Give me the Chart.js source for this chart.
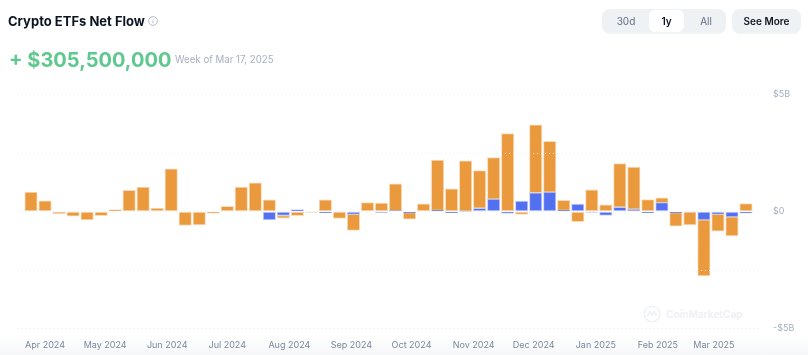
<!DOCTYPE html>
<html>
<head>
<meta charset="utf-8">
<script src="https://cdn.jsdelivr.net/npm/chart.js@4/dist/chart.umd.min.js"></script>
<style>
html,body{margin:0;padding:0;width:808px;height:355px;overflow:hidden;background:#fff;font-family:Inter,sans-serif}
#fade{position:absolute;left:0;right:0;top:335px;height:20px;background:linear-gradient(#ffffff,#f6f7f9)}
#mark{position:absolute;left:643px;top:305px;display:flex;align-items:center;gap:5px;color:#eff1f4;font-weight:700;font-size:10px;height:18px}
#wrap{position:absolute;left:0;top:0;width:808px;height:355px}
.t{position:absolute;white-space:nowrap}
#title{left:8px;top:12px;font-size:13px;font-weight:700;color:#0d1421;line-height:18px}
#val{left:9px;top:46px;font-size:20px;font-weight:700;color:#5fc88f;line-height:28px}
#week{left:175px;top:52px;font-size:9.7px;color:#a6b0c3;line-height:15px}
#info{position:absolute;left:148px;top:16px}
#grp{position:absolute;left:602px;top:9px;width:124px;height:25px;background:#eff2f5;border-radius:8px}
#act{position:absolute;left:47px;top:1px;width:35px;height:22px;background:#fff;border-radius:6px}
.b{position:absolute;top:0;line-height:25px;font-size:10px;text-align:center;color:#616e85}
#more{position:absolute;left:732px;top:9px;width:69px;height:25px;line-height:25px;background:#eff2f5;border-radius:8px;text-align:center;font-size:10px;font-weight:600;color:#0d1421}
</style>
</head>
<body>
<div id="fade"></div>
<div id="mark"><svg width="18" height="18" viewBox="0 0 18 18" fill="none" stroke="#eff1f4" stroke-width="1.6"><circle cx="9" cy="9" r="7.8"/><path d="M4.5 11.5 L7 6.5 L9 10.5 L11 6.5 L13.5 11"/></svg><span>CoinMarketCap</span></div>
<div id="wrap"><canvas id="c" width="808" height="355"></canvas></div>
<div class="t" id="title">Crypto ETFs Net Flow</div>
<svg id="info" width="10" height="10" viewBox="0 0 11 11" fill="none" stroke="#a6b0c3" stroke-width="0.9"><circle cx="5.5" cy="5.5" r="4.8"/><path d="M5.5 5v3M5.5 3v1"/></svg>
<div class="t" id="val">+ $305,500,000</div>
<div class="t" id="week">Week of Mar 17, 2025</div>
<div id="grp"><div id="act"></div>
<div class="b" style="left:10px;width:28px">30d</div>
<div class="b" style="left:47px;width:35px;color:#0d1421;font-weight:600">1y</div>
<div class="b" style="left:90px;width:28px">All</div></div>
<div id="more">See More</div>
<script>
const weeks = ["2024-03-25","2024-04-01","2024-04-08","2024-04-15","2024-04-22","2024-04-29","2024-05-06","2024-05-13","2024-05-20","2024-05-27","2024-06-03","2024-06-10","2024-06-17","2024-06-24","2024-07-01","2024-07-08","2024-07-15","2024-07-22","2024-07-29","2024-08-05","2024-08-12","2024-08-19","2024-08-26","2024-09-02","2024-09-09","2024-09-16","2024-09-23","2024-09-30","2024-10-07","2024-10-14","2024-10-21","2024-10-28","2024-11-04","2024-11-11","2024-11-18","2024-11-25","2024-12-02","2024-12-09","2024-12-16","2024-12-23","2024-12-30","2025-01-06","2025-01-13","2025-01-20","2025-01-27","2025-02-03","2025-02-10","2025-02-17","2025-02-24","2025-03-03","2025-03-10","2025-03-17"];
const btcFlow = [.83,.46,-.09,-.2,-.36,-.18,.08,.9,1.04,.15,1.82,-.6,-.57,-.07,.22,1.04,1.23,.5,-.12,-.18,-.03,.5,-.3,-.69,.38,.36,1.14,-.28,.33,2.15,.97,2.16,1.61,1.77,3.33,-.12,2.9,2.17,.43,-.43,.93,.28,1.87,1.8,.51,.2,-.58,-.55,-2.39,-.72,-.81,.34];
const ethFlow = [0,0,0,0,0,0,0,0,0,0,0,0,0,0,0,0,0,-.36,-.17,.08,0,-.05,0,-.12,0,-.04,.04,-.05,0,.05,-.05,.01,.14,.53,-.08,.45,.8,.83,.05,.32,-.03,-.17,.18,.1,-.05,.38,-.05,-.02,-.36,-.12,-.23,-.07];
const monthStarts = ["2024-04-01","2024-05-01","2024-06-01","2024-07-01","2024-08-01","2024-09-01","2024-10-01","2024-11-01","2024-12-01","2025-01-01","2025-02-01","2025-03-01"];
const monthLabels = ["Apr 2024","May 2024","Jun 2024","Jul 2024","Aug 2024","Sep 2024","Oct 2024","Nov 2024","Dec 2024","Jan 2025","Feb 2025","Mar 2025"];
const yTicks = [-5,-2.5,0,2.5,5];
const yLabels = ["-$5B","","$0","","$5B"];

const WEEK = 7*864e5;
const ts = weeks.map(d=>Date.parse(d));
const mts = monthStarts.map(d=>Date.parse(d));
const series = a => a.map((v,i)=>({x:ts[i],y:v}));
new Chart(document.getElementById('c'),{
  type:'bar',
  data:{datasets:[
    {label:'BTC-ETH',data:series(ethFlow),backgroundColor:'#5270f0',borderColor:'rgba(82,112,240,0.32)',borderWidth:1,borderSkipped:false,barThickness:12.5},
    {label:'Flow',data:series(btcFlow),backgroundColor:'#ea9a3c',borderColor:'rgba(234,154,60,0.35)',borderWidth:1,borderSkipped:false,barThickness:12.5}
  ]},
  options:{
    responsive:false,animation:false,
    layout:{padding:{left:17,top:94.5,right:0,bottom:0}},
    plugins:{legend:{display:false},tooltip:{enabled:false}},
    scales:{
      x:{type:'linear',stacked:true,offset:false,min:ts[0]-WEEK,max:ts[ts.length-1]+WEEK,
        grid:{display:false},border:{display:false},
        afterBuildTicks:s=>{s.ticks=mts.map(v=>({value:v}));},
        afterFit:s=>{s.height=26.5;},
        ticks:{autoSkip:false,maxRotation:0,minRotation:0,padding:3,color:'#7b869b',font:{family:'Inter, sans-serif',size:9},
          callback:v=>monthLabels[mts.indexOf(v)]}},
      y:{position:'right',stacked:true,min:-5,max:5,
        grid:{color:'#e9ecf1',lineWidth:1,tickLength:0,z:1,drawTicks:false},
        border:{display:false,dash:[1,3]},
        afterBuildTicks:s=>{s.ticks=yTicks.map(v=>({value:v}));},
        afterFit:s=>{s.width=48;},
        ticks:{padding:13,color:'#a6b0c3',font:{family:'Inter, sans-serif',size:9},callback:v=>yLabels[yTicks.indexOf(v)]}}
    }
  }
});
</script>
</body>
</html>
